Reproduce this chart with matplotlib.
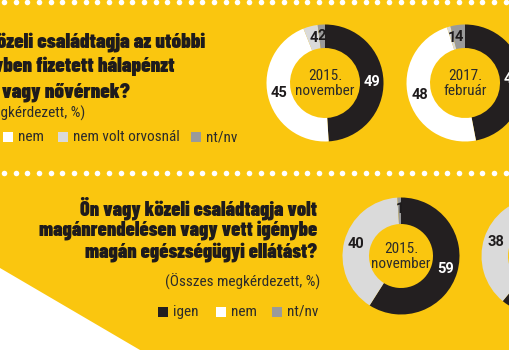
import matplotlib
matplotlib.use('Agg')
import matplotlib.pyplot as plt
from matplotlib.patches import Rectangle, Polygon
import numpy as np

# --- data ---
top_labels = ['igen', 'nem', 'nem volt orvosnál', 'nt/nv']
hala_2015 = [49, 45, 4, 2]
hala_2017 = [47, 48, 1, 4]

bottom_labels = ['igen', 'nem', 'nt/nv']
magan_2015 = [59, 40, 1]
magan_2017 = [61, 38, 1]

periods = ['2015.\nnovember', '2017.\nfebruár']

top_title = ['Ön vagy közeli családtagja az utóbbi',
             'egy évben fizetett hálapénzt',
             'orvosnak vagy nővérnek?']
bottom_title = ['Ön vagy közeli családtagja volt',
                'magánrendelésen vagy vett igénybe',
                'magán egészségügyi ellátást?']
subtitle = '(Összes megkérdezett, %)'

# --- style ---
YELLOW = '#FAC60F'
BLACK = '#231F20'
WHITE = '#FFFFFF'
LGRAY = '#DADADA'
DGRAY = '#9A9A9A'
TXT = '#1E1B1C'
SOFT = '#2b2b2b'

TITLE_FONT = ['Barlow Condensed', 'DejaVu Sans']
BODY_FONT = ['Roboto Condensed', 'Barlow Condensed', 'DejaVu Sans']
NUM_FONT = ['Roboto', 'DejaVu Sans']

H = 350
fig = plt.figure(figsize=(5.1, 3.5), dpi=100)
fig.patch.set_facecolor(YELLOW)
ax = fig.add_axes([0, 0, 1, 1])
ax.set_facecolor(YELLOW)


def Y(y):
    return H - y


# white corner bottom left
ax.add_patch(Polygon([(0, Y(268)), (140, Y(350)), (0, Y(350))],
                     closed=True, facecolor='white', edgecolor='none', zorder=0))

# dotted separators
xs = np.arange(4, 515, 11.67)
ax.scatter(xs, np.full(len(xs), Y(1.5)), s=16, color='white', lw=0, zorder=1)
ax.scatter(xs, np.full(len(xs), Y(172.5)), s=16, color='white', lw=0, zorder=1)


def donut(vals, center, colors, r_in, period):
    cx, cy = center
    wedges, texts, autos = ax.pie(vals, colors=colors, startangle=90, counterclock=False,
                                  radius=58.5, center=(cx, Y(cy)), frame=True,
                                  autopct='%.0f', pctdistance=0.8,
                                  wedgeprops=dict(width=58.5 - r_in, edgecolor='none'),
                                  textprops=dict(fontsize=10.5, fontweight='bold',
                                                 family=NUM_FONT, color=TXT))
    for w, t in zip(wedges, autos):
        if w.get_facecolor()[:3] == matplotlib.colors.to_rgb(BLACK):
            t.set_color('white')
    l1, l2 = period.split('\n')
    ax.text(cx, Y(cy - 7), l1, ha='center', va='center', fontsize=11,
            family=BODY_FONT, color=SOFT)
    ax.text(cx, Y(cy + 8), l2, ha='center', va='center', fontsize=11,
            family=BODY_FONT, color=SOFT)


top_colors = [BLACK, WHITE, LGRAY, DGRAY]
bot_colors = [BLACK, LGRAY, DGRAY]
donut(hala_2015, (325, 83), top_colors, 35, periods[0])
donut(hala_2017, (465, 83), top_colors, 35, periods[1])
donut(magan_2015, (401, 256), bot_colors, 32, periods[0])
donut(magan_2017, (540, 256), bot_colors, 32, periods[1])

# top titles (right ends measured)
for line, xr, yb in zip(top_title, [205, 175, 130], [47, 72, 97]):
    ax.text(xr, Y(yb), line, ha='right', va='baseline', fontsize=15,
            fontweight=900, family=TITLE_FONT, color=TXT)
ax.text(85, Y(113), subtitle, ha='right', va='center', fontsize=11,
        family=BODY_FONT, color=SOFT)

# bottom titles, right aligned
for line, yb in zip(bottom_title, [215, 236, 257]):
    ax.text(317, Y(yb), line, ha='right', va='baseline', fontsize=14.5,
            fontweight=900, family=TITLE_FONT, color=TXT)
ax.text(320, Y(282), subtitle, ha='right', va='center', fontsize=11,
        family=BODY_FONT, color=SOFT)


def legend(labels, colors, xs, y):
    for lab, c, x in zip(labels, colors, xs):
        ax.add_patch(Rectangle((x, Y(y + 5)), 10, 10, facecolor=c,
                               edgecolor='none', zorder=3))
        ax.text(x + 15, Y(y), lab, ha='left', va='center', fontsize=11,
                family=BODY_FONT, color=SOFT)


legend(top_labels, top_colors, [-52, 3, 58, 191], 137)
legend(bottom_labels, [BLACK, WHITE, DGRAY], [158, 216, 272], 312)

ax.set_xlim(0, 510)
ax.set_ylim(0, H)
ax.set_aspect('auto')
ax.axis('off')
fig.savefig('out.png', dpi=100, facecolor=YELLOW)
